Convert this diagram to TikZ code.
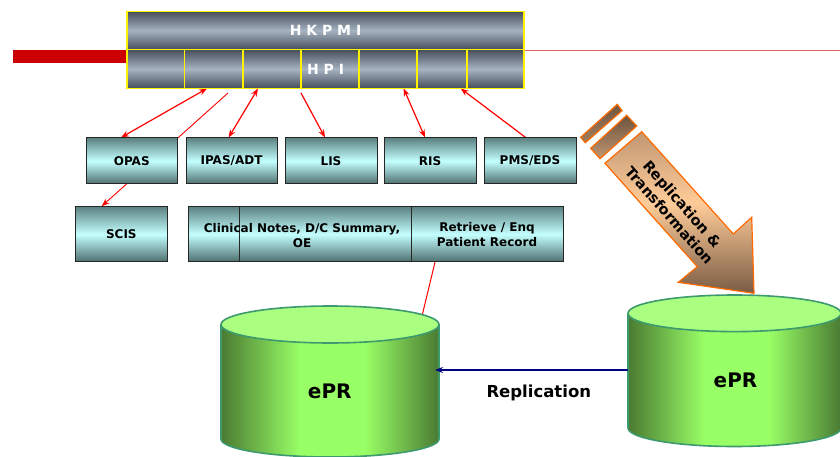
\documentclass[tikz,border=0pt]{standalone}
\usepackage{fontspec}
\setmainfont{DejaVu Sans}
\usetikzlibrary{arrows.meta,backgrounds}
\definecolor{barD}{HTML}{474E5A}
\definecolor{barL}{HTML}{A5B3C2}
\definecolor{boxD}{HTML}{5C8282}
\definecolor{boxL}{HTML}{C4FFFF}
\definecolor{cylD}{HTML}{4A7A32}
\definecolor{cylB}{HTML}{99FF66}
\definecolor{cylTop}{HTML}{AAFF80}
\definecolor{cylEdge}{HTML}{3C9A6E}
\definecolor{arrD}{HTML}{7A5C44}
\definecolor{arrL}{HTML}{FFCC99}
\definecolor{arrT}{HTML}{C09672}
\definecolor{arrEdge}{HTML}{FF6A00}
\definecolor{thinred}{HTML}{E06A6A}
\definecolor{barred}{HTML}{CC0000}
\definecolor{navyblue}{HTML}{000080}
\pgfdeclarehorizontalshading{cylside}{100bp}{color(0bp)=(cylD); color(25bp)=(cylD); color(43bp)=(cylB); color(58bp)=(cylB); color(75bp)=(cylD); color(100bp)=(cylD)}
\pgfdeclareverticalshading{arrsh}{100bp}{color(0bp)=(arrD); color(25bp)=(arrD); color(53bp)=(arrL); color(75bp)=(arrT); color(100bp)=(arrT)}
\tikzset{
  barcell/.style={draw=yellow, line width=1.2pt, top color=barD, bottom color=barD, middle color=barL,
    inner sep=0pt, text=white, font=\bfseries\fontsize{14}{16}\selectfont},
  sysbox/.style={draw=black!85, line width=1pt, top color=boxD, bottom color=boxD!85!black, middle color=boxL,
    minimum width=92pt, minimum height=46pt, inner sep=0pt, font=\bfseries\fontsize{12}{15}\selectfont, align=center},
  lowbox/.style={sysbox, minimum height=55pt},
  link/.style={red, line width=1.2pt},
  headR/.style={-{Stealth[length=8pt,width=6pt]}},
  headB/.style={{Stealth[length=8pt,width=6pt]}-{Stealth[length=8pt,width=6pt]}},
  cylwall/.style={cylEdge, line width=1.6pt},
  bigtext/.style={font=\bfseries\fontsize{20}{24}\selectfont},
  stripe/.style={arrEdge, line width=1.2pt},
}
\begin{document}
\begin{tikzpicture}[x=1pt,y=-1pt]
\useasboundingbox (0,0) rectangle (840,457);
% red bar and thin line
\fill[barred] (12.5,50) rectangle (127,62.7);
\draw[thinred, line width=0.9pt] (524,50.6) -- (840,50.6);
% HKPMI / HPI bar
\node[barcell, minimum width=397pt, minimum height=38pt] (hkpmi) at (325.5,30.5) {H K P M I};
\node[barcell, minimum width=397pt, minimum height=39pt] (hpi) at (325.5,69) {H P I};
\foreach \xx in {184.6,243,301,359,417,467}
  \draw[yellow, line width=1.2pt] (\xx,49.5) -- (\xx,88.5);
% first row boxes
\node[sysbox, minimum width=91.5pt] (opas) at (131.75,161) {OPAS};
\node[sysbox, minimum width=91pt] (ipas) at (231.5,161) {IPAS/ADT};
\node[sysbox] (lis) at (331,161) {LIS};
\node[sysbox] (ris) at (430,161) {RIS};
\node[sysbox] (pms) at (530,161) {PMS/EDS};
% second row
\node[lowbox, minimum width=91.3pt] (scis) at (121.35,234.2) {SCIS};
\node[lowbox, minimum width=115pt] (clinA) at (245.5,234.2) {};
\node[lowbox, minimum width=194pt] (clinB) at (336,234.2) {};
\node[lowbox, minimum width=152pt] (ret) at (487,234.2) {Retrieve / Enq\\Patient Record};
\node[font=\bfseries\fontsize{12}{15}\selectfont, align=center, inner sep=0pt] (clintext) at (302,235.5) {Clinical Notes, D/C Summary,\\OE};
% connector anchor coordinates
\coordinate (h1) at (207,88.5);
\coordinate (h2) at (228,93);
\coordinate (h3) at (258,88.5);
\coordinate (h4) at (301,93);
\coordinate (h5) at (403.6,88.5);
\coordinate (h6) at (460.7,88.5);
\coordinate (cylLrim) at (422,316);
\coordinate (cylLeast) at (435,370);
\coordinate (cylRwest) at (628,370);
\begin{pgfonlayer}{background}
\draw[link, headB] (h1) -- ([xshift=-10.75pt]opas.north);
\draw[link, line width=0.9pt, headR] (h2) -- ([xshift=-19.6pt]scis.north);
\draw[link, headB] (h3) -- ([xshift=-2.9pt]ipas.north);
\draw[link, headR] (h4) -- ([xshift=-6pt]lis.north);
\draw[link, headB] (h5) -- ([xshift=-5pt]ris.north);
\draw[link, headR] ([xshift=-4.3pt]pms.north) -- (h6);
\draw[red, line width=1pt] ([xshift=-52pt]ret.south) -- (cylLrim);
\end{pgfonlayer}
% left cylinder
\path[shading=cylside] (221,324.5) -- (221,439) arc[start angle=180, end angle=0, x radius=109, y radius=18] -- (439,324.5) -- cycle;
\draw[cylwall] (221,324.5) -- (221,439) arc[start angle=180, end angle=0, x radius=109, y radius=18] -- (439,324.5);
\draw[cylwall, fill=cylTop] (330,324.5) ellipse[x radius=109, y radius=18.5];
% right cylinder
\path[shading=cylside] (628,313.3) -- (628,428) arc[start angle=180, end angle=0, x radius=106.5, y radius=18.5] -- (841,313.3) -- cycle;
\draw[cylwall] (628,313.3) -- (628,428) arc[start angle=180, end angle=0, x radius=106.5, y radius=18.5] -- (841,313.3);
\draw[cylwall, fill=cylTop] (734.5,313.3) ellipse[x radius=106.5, y radius=18.3];
\node[bigtext] (eprL) at (329.8,391.7) {ePR};
\node[bigtext] (eprR) at (735.5,380) {ePR};
% replication arrow
\draw[navyblue, line width=1.3pt, -{Stealth[length=8pt,width=6pt]}] (cylRwest) -- (cylLeast);
\node[font=\bfseries\fontsize{16.5}{20}\selectfont] (repl) at (538.8,393) {Replication};
% big arrow
\draw[stripe, top color=arrD!95!black, bottom color=arrD!70!arrL] (580.7,137.3) -- (617.3,104.3) -- (622,110.7) -- (585.3,142.7) -- cycle;
\draw[stripe, top color=arrD!90!black, bottom color=arrT] (590.7,148.3) -- (626.7,115.3) -- (636.7,126) -- (600,158.7) -- cycle;
\draw[stripe, shading=arrsh] (605,163.3) -- (641.7,131.7) -- (733.3,234) -- (751.7,217.3) -- (754,293.3) -- (678.3,282.3) -- (697.3,266.7) -- cycle;
\node[rotate=-48.7, align=center, inner sep=0pt, font=\bfseries\fontsize{14.5}{17.3}\selectfont] (rtlabel) at (675.8,209.6) {Replication \&\\Transformation};
\end{tikzpicture}
\end{document}
